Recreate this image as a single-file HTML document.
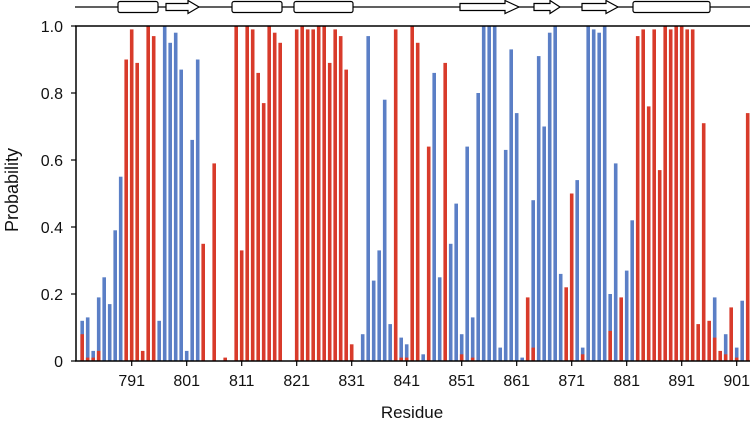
<!DOCTYPE html>
<html><head><meta charset="utf-8"><style>
body{margin:0;background:#fff;}
svg text{font-family:"Liberation Sans",sans-serif;fill:#111;}
</style></head><body>
<svg id="s" width="750" height="429" xmlns="http://www.w3.org/2000/svg">
<g stroke="#000" stroke-width="1.2" fill="#fff">
<line x1="75" y1="7" x2="750" y2="7"/>
<rect x="118" y="1.5" width="40" height="11" rx="2"/>
<path d="M166 3.5H188V0.5L199 7L188 13.5V10.5H166Z"/>
<rect x="232" y="1.5" width="50" height="11" rx="2"/>
<rect x="294" y="1.5" width="59" height="11" rx="2"/>
<path d="M460 3.5H505V0.5L519 7L505 13.5V10.5H460Z"/>
<path d="M534 3.5H550V0.5L560 7L550 13.5V10.5H534Z"/>
<path d="M582 3.5H606V0.5L618 7L606 13.5V10.5H582Z"/>
<rect x="633" y="1.5" width="77" height="11" rx="2"/>
</g>
<g id="bars"></g>
<g stroke="#000" stroke-width="1.5">
<line x1="75" y1="26" x2="750" y2="26"/>
<line x1="76" y1="26" x2="76" y2="361"/>
<line x1="75" y1="361" x2="750" y2="361"/>
</g>
<g id="ax" stroke="#000" stroke-width="1.2"></g>
<g font-size="16" text-anchor="end">
<text x="63" y="367">0</text><text x="63" y="300">0.2</text><text x="63" y="233">0.4</text>
<text x="63" y="166">0.6</text><text x="63" y="99">0.8</text><text x="63" y="32">1.0</text>
</g>
<g id="xl" font-size="16" text-anchor="middle"></g>
<text x="412" y="418" font-size="17" text-anchor="middle">Residue</text>
<text transform="translate(18,190) rotate(-90)" font-size="18" text-anchor="middle">Probability</text>
</svg>
<script>
var B={782:.12,783:.13,784:.03,785:.19,786:.25,787:.17,788:.39,789:.55,796:.12,797:1,798:.95,799:.98,800:.87,801:.03,802:.66,803:.9,
833:.08,834:.97,835:.24,836:.33,837:.78,838:.11,840:.07,841:.05,844:.02,846:.86,847:.25,849:.35,850:.47,851:.08,852:.64,853:.13,854:.8,855:1,856:1,857:1,858:.04,859:.63,860:.93,861:.74,862:.01,864:.48,865:.91,866:.7,867:.98,868:1,869:.26,872:.54,873:.04,874:1,875:.99,876:.98,877:1,878:.2,879:.59,881:.27,882:.42,897:.19,899:.08,901:.04,902:.18};
var R={782:.08,783:.01,784:.01,785:.03,790:.9,791:.99,792:.89,793:.03,794:1,795:.97,804:.35,806:.59,808:.01,810:1,811:.33,812:1,813:.99,814:.86,815:.77,816:1,817:.98,818:.95,
821:.99,822:1,823:.99,824:.99,825:1,826:1,827:.89,828:.99,829:.97,830:.87,831:.05,839:.99,840:.01,841:.01,842:1,843:.95,845:.64,848:.89,851:.02,853:.01,863:.19,864:.04,870:.22,871:.5,873:.02,878:.09,880:.19,
883:.97,884:.99,885:.76,886:.99,887:.57,888:1,889:.99,890:1,891:1,892:.99,893:.99,894:.11,895:.71,896:.12,897:.07,898:.03,899:.02,900:.16,901:.01,903:.74};
var g=document.getElementById('bars'),h='';
function bar(r,v,c){var x=131.7+5.5*(r-791)-1.8,y=361-335*v;h+='<rect x="'+x.toFixed(1)+'" y="'+y.toFixed(1)+'" width="3.6" height="'+(335*v).toFixed(1)+'" fill="'+c+'"/>';}
for(var r=782;r<=903;r++){var b=B[r]||0,d=R[r]||0;
 if(b>=d){if(b)bar(r,b,'#5b7fc6');if(d)bar(r,d,'#d83b2b');}else{bar(r,d,'#d83b2b');if(b)bar(r,b,'#5b7fc6');}}
g.innerHTML=h;
var a='',t='';
for(var i=0;i<=5;i++){var y=361-67*i;a+='<line x1="71" y1="'+y+'" x2="76" y2="'+y+'"/>';}
for(var r=791;r<=901;r+=10){var x=131.7+5.5*(r-791);a+='<line x1="'+x+'" y1="361" x2="'+x+'" y2="366"/>';t+='<text x="'+x+'" y="386">'+r+'</text>';}
document.getElementById('ax').innerHTML=a;document.getElementById('xl').innerHTML=t;
</script>
</body></html>
